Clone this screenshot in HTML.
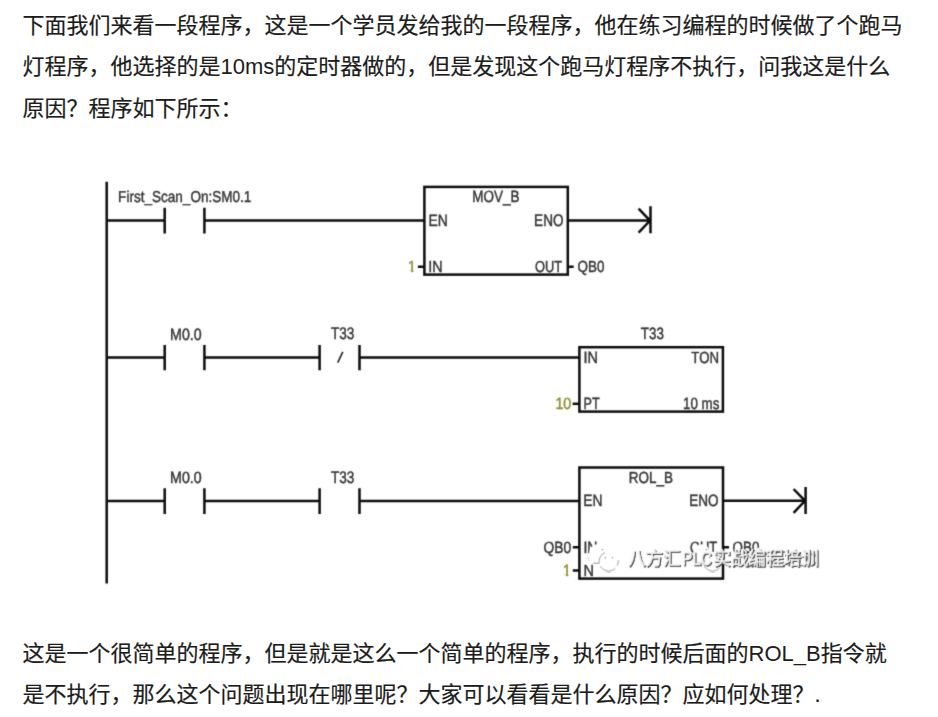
<!DOCTYPE html>
<html lang="zh-CN">
<head>
<meta charset="utf-8">
<title>PLC</title>
<style>
html,body{margin:0;padding:0;background:#fff;}
body{width:938px;height:717px;position:relative;overflow:hidden;font-family:"Liberation Sans","Noto Sans CJK SC",sans-serif;}
.t{position:absolute;left:22.5px;margin:0;width:910px;font-size:22px;line-height:41px;height:41px;color:#1c1c1c;white-space:nowrap;-webkit-text-stroke:0.18px #1c1c1c;}
.t span{-webkit-text-stroke:0;}
svg#d{position:absolute;left:0;top:0;}
svg text{text-rendering:geometricPrecision;font-family:"Liberation Sans",sans-serif;font-size:15px;fill:#343434;stroke:#343434;stroke-width:0.42px;}
svg text.o{fill:#8f8f30;stroke:#8f8f30;stroke-width:0.45px;}
svg text.wm{font-family:"Liberation Sans","Noto Sans CJK SC",sans-serif;font-size:19px;fill:#f3f3f3;stroke:#f3f3f3;stroke-width:0.5px;stroke-linejoin:round;}
</style>
</head>
<body>
<div class="t" style="top:5px">下面我们来看一段程序，这是一个学员发给我的一段程序，他在练习编程的时候做了个跑马</div>
<div class="t" style="top:46px">灯程序，他选择的是<span>10ms</span>的定时器做的，但是发现这个跑马灯程序不执行，问我这是什么</div>
<div class="t" style="top:88px">原因？程序如下所示：</div>
<div class="t" style="top:633px">这是一个很简单的程序，但是就是这么一个简单的程序，执行的时候后面的<span>ROL_B</span>指令就</div>
<div class="t" style="top:674px">是不执行，那么这个问题出现在哪里呢？大家可以看看是什么原因？应如何处理？.</div>
<svg id="d" width="938" height="717" viewBox="0 0 938 717">
<defs><filter id="b" x="-5%" y="-5%" width="110%" height="110%" color-interpolation-filters="sRGB"><feConvolveMatrix order="3" kernelMatrix="0.0192 0.1001 0.0192 0.1001 0.5228 0.1001 0.0192 0.1001 0.0192" edgeMode="duplicate" preserveAlpha="false"/></filter>
<filter id="w1" x="-5%" y="-30%" width="110%" height="160%" color-interpolation-filters="sRGB">
<feOffset in="SourceAlpha" dx="1" dy="1" result="o"/><feFlood flood-color="#383838"/><feComposite in2="o" operator="in" result="sh"/>
<feMerge><feMergeNode in="sh"/><feMergeNode in="SourceGraphic"/></feMerge></filter>
<filter id="w2" x="-5%" y="-30%" width="110%" height="160%" color-interpolation-filters="sRGB">
<feMorphology in="SourceAlpha" operator="dilate" radius="1.1" result="d"/><feFlood flood-color="#fff"/><feComposite in2="d" operator="in" result="halo"/>
<feOffset in="SourceAlpha" dx="1" dy="1" result="o"/><feFlood flood-color="#4a4a4a"/><feComposite in2="o" operator="in" result="sh"/>
<feMerge><feMergeNode in="halo"/><feMergeNode in="sh"/><feMergeNode in="SourceGraphic"/></feMerge></filter>
<clipPath id="c1"><path d="M0.8 -12H5.6V0.5H3.3V-1.5H0.8Z"/></clipPath></defs>
<g filter="url(#b)">
<g stroke="#0d0d0d" stroke-width="2.5" fill="none" stroke-linecap="butt">
<path d="M106.7 181.8V583.5"/>
<path d="M106 220.6H164.7M164.7 207.7V233.5M204.4 207.7V233.5M204.4 220.6H424"/>
<rect x="424.4" y="186.9" width="143.4" height="87.7"/>
<path d="M568 220.6H650.5M650.5 206.3V233.2M638.6 208.6L650 220.6L638.6 232.6"/>
<path d="M417.9 266.8H424M568 266.8H573.7"/>
<path d="M106 357.5H164.7M164.7 345V370.3M204.4 345V370.3M204.4 357.5H319.6M319.6 345V370.3M359.5 345V370.3M359.5 357.4H579"/>
<rect x="579.4" y="347.2" width="143.5" height="64.4"/>
<path d="M572.6 403.8H579"/>
<path d="M106 501.1H164.7M164.7 488.3V514M204.4 488.3V514M204.4 501.1H319.6M319.6 488.3V514M359.5 488.3V514M359.5 500.9H579"/>
<rect x="579.4" y="467.5" width="143.6" height="111.1"/>
<path d="M723 500.8H805.6M805.6 486.9V514M793.6 489L805 500.8L793.6 512.8"/>
<path d="M572.8 547.2H579M572.8 570.5H579M723 547.2H729"/>
</g>
<path d="M337.7 362.6L342.8 351.9" stroke="#222" stroke-width="1.6" fill="none"/>
<text transform="matrix(0.9030 0 0 1.0485 118.12 202.15)">First_Scan_On:SM0.1</text>
<text transform="matrix(0.8990 0 0 1.0874 472.23 202.45)">MOV_B</text>
<text transform="matrix(0.9252 0 0 1.0874 428.49 225.75)">EN</text>
<text transform="matrix(0.9049 0 0 1.1262 534.12 225.75)">ENO</text>
<text transform="matrix(0.9535 0 0 1.0583 428.34 271.75)">IN</text>
<text transform="matrix(0.8555 0 0 1.0583 534.91 271.75)">OUT</text>
<text class="o" clip-path="url(#c1)" transform="matrix(0.9931 0 0 1.0680 407.86 271.85)">1</text>
<text transform="matrix(0.8939 0 0 1.0680 577.58 271.85)">QB0</text>
<text transform="matrix(0.9460 0 0 1.0971 170.07 339.55)">M0.0</text>
<text transform="matrix(0.9051 0 0 1.1068 331.01 339.45)">T33</text>
<text transform="matrix(0.8929 0 0 1.0971 640.82 339.35)">T33</text>
<text transform="matrix(0.9616 0 0 1.0874 583.53 362.65)">IN</text>
<text transform="matrix(0.8807 0 0 1.0777 691.32 362.55)">TON</text>
<text transform="matrix(0.8397 0 0 1.0874 583.50 408.85)">PT</text>
<text transform="matrix(0.8920 0 0 1.0874 682.95 408.85)">10 ms</text>
<text class="o" transform="matrix(0.9467 0 0 1.0874 555.39 408.85)">10</text>
<text transform="matrix(0.9460 0 0 1.0874 170.07 483.15)">M0.0</text>
<text transform="matrix(0.9051 0 0 1.1068 331.01 483.25)">T33</text>
<text transform="matrix(0.8976 0 0 1.0680 628.73 483.15)">ROL_B</text>
<text transform="matrix(0.9252 0 0 1.0971 583.29 506.05)">EN</text>
<text transform="matrix(0.9016 0 0 1.0971 689.22 506.05)">ENO</text>
<text transform="matrix(0.9217 0 0 1.0874 543.56 552.85)">QB0</text>
<text transform="matrix(0.9374 0 0 1.0874 583.46 552.85)">IN</text>
<text transform="matrix(0.9672 0 0 1.0777 583.54 576.05)">N</text>
<text class="o" clip-path="url(#c1)" transform="matrix(0.9931 0 0 1.0874 562.86 576.15)">1</text>
<text transform="matrix(0.8555 0 0 1.0874 689.91 552.85)">OUT</text>
<text transform="matrix(0.8939 0 0 1.0874 732.58 552.85)">QB0</text>
</g>
<g filter="url(#b)">
<clipPath id="wc"><rect x="560" y="530" width="259.6" height="50"/></clipPath>
<g clip-path="url(#wc)">
<g transform="translate(104.0 0)"><circle cx="597.6" cy="552.6" r="8.4" fill="#fff"/>
<path d="M593.2 563.2H598.8M601.6 549.6H603.4" stroke="#888" stroke-width="0.9" fill="none"/>
<path d="M587.2 556.5L589.5 561" stroke="#ccc" stroke-width="0.8" fill="none"/>
<circle cx="608.7" cy="561.4" r="9.6" fill="#fff"/>
<path d="M599.3 563.5A9.6 9.6 0 0 1 605 552.6M600.3 566.2A9.6 9.6 0 0 0 615.5 568.2M617.3 565.5A9.6 9.6 0 0 0 618.2 560" stroke="#999" stroke-width="0.9" fill="none"/>
<circle cx="605.4" cy="557.7" r="0.8" fill="#999"/><circle cx="612.4" cy="557.7" r="0.8" fill="#999"/></g>
<text class="wm" y="564.6" filter="url(#w2)"><tspan x="732.0" textLength="52.5" lengthAdjust="spacingAndGlyphs">八方汇</tspan><tspan x="786.3" textLength="29.5" lengthAdjust="spacingAndGlyphs">PLC</tspan></text>
<g transform="translate(0 0)"><circle cx="597.6" cy="552.6" r="8.4" fill="#fff"/>
<path d="M593.2 563.2H598.8M601.6 549.6H603.4" stroke="#888" stroke-width="0.9" fill="none"/>
<path d="M587.2 556.5L589.5 561" stroke="#ccc" stroke-width="0.8" fill="none"/>
<circle cx="608.7" cy="561.4" r="9.6" fill="#fff"/>
<path d="M599.3 563.5A9.6 9.6 0 0 1 605 552.6M600.3 566.2A9.6 9.6 0 0 0 615.5 568.2M617.3 565.5A9.6 9.6 0 0 0 618.2 560" stroke="#999" stroke-width="0.9" fill="none"/>
<circle cx="605.4" cy="557.7" r="0.8" fill="#999"/><circle cx="612.4" cy="557.7" r="0.8" fill="#999"/></g>
<text class="wm" y="564.6" filter="url(#w1)"><tspan x="628.0" textLength="52.5" lengthAdjust="spacingAndGlyphs">八方汇</tspan><tspan x="682.3" textLength="29.5" lengthAdjust="spacingAndGlyphs">PLC</tspan><tspan x="713.2" textLength="105.5" lengthAdjust="spacingAndGlyphs">实战编程培训</tspan></text>
</g>
</g>
</svg>
</body>
</html>
